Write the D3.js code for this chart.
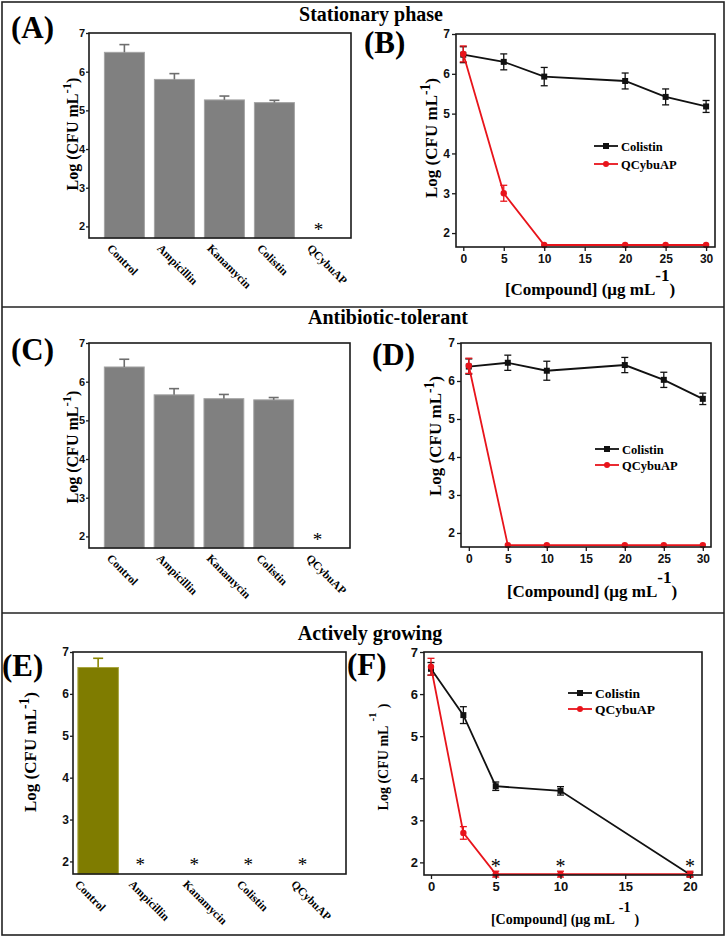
<!DOCTYPE html>
<html>
<head>
<meta charset="utf-8">
<script src="https://cdn.jsdelivr.net/npm/d3@7"></script>
<style>
  body { margin: 0; background: #fff; }
  svg { display: block; font-family: "Liberation Serif", "Times New Roman", serif; font-weight: bold; }
</style>
</head>
<body>
<div id="chart"></div>
<script>
// ---- data ----
const drugs = ["Control", "Ampicillin", "Kanamycin", "Colistin", "QCybuAP"];

// (A) stationary phase, bars
const statBars = [6.5, 5.8, 5.27, 5.2, null];
const statBarErr = [0.2, 0.15, 0.1, 0.06, 0];
// (C) antibiotic-tolerant, bars
const tolBars = [6.38, 5.66, 5.56, 5.53, null];
const tolBarErr = [0.2, 0.16, 0.11, 0.06, 0];
// (E) actively growing, bars
const growBars = [6.63, null, null, null, null];
const growBarErr = [0.22, 0, 0, 0, 0];

// (B) stationary, dose response
const doseStat = [0, 5, 10, 20, 25, 30];
const statColistin = [6.48, 6.3, 5.93, 5.82, 5.42, 5.18];
const statColistinErr = [0.2, 0.2, 0.23, 0.2, 0.2, 0.15];
const statQCy = [6.5, 3.0, 1.7, 1.7, 1.7, 1.7];
const statQCyErr = [0.2, 0.2, 0, 0, 0, 0];

// (D) antibiotic-tolerant, dose response
const doseTol = [0, 5, 10, 20, 25, 30];
const tolColistin = [6.38, 6.48, 6.27, 6.42, 6.03, 5.53];
const tolColistinErr = [0.2, 0.2, 0.25, 0.2, 0.2, 0.15];
const tolQCy = [6.4, 1.68, 1.68, 1.68, 1.68, 1.68];
const tolQCyErr = [0.2, 0, 0, 0, 0, 0];

// (F) actively growing, dose response
const doseGrow = [0, 2.5, 5, 10, 20];
const growColistin = [6.6, 5.5, 3.81, 3.7, 1.71];
const growColistinErr = [0.15, 0.2, 0.1, 0.1, 0.05];
const growQCy = [6.65, 2.7, 1.72, 1.72, 1.72];
const growQCyErr = [0.2, 0.15, 0.07, 0.07, 0.07];
const growStars = [5, 10, 20];

const yTicks = [2, 3, 4, 5, 6, 7];
const xTicks30 = [0, 5, 10, 15, 20, 25, 30];
const xTicks20 = [0, 5, 10, 15, 20];
const sectionTitles = ["Stationary phase", "Antibiotic-tolerant", "Actively growing"];

const RED = "#e8141b", BLACK = "#111";

const svg = d3.select("#chart").append("svg")
    .attr("width", 726)
    .attr("height", 937);

svg.append("rect").attr("width", 726).attr("height", 937).attr("fill", "#fff");

// outer frame + section dividers
svg.append("rect")
    .attr("x", 2).attr("y", 2).attr("width", 722).attr("height", 933)
    .attr("fill", "none").attr("stroke", "#222").attr("stroke-width", 1.6);
[307, 613].forEach(y => {
    svg.append("line").attr("x1", 2).attr("x2", 724).attr("y1", y).attr("y2", y)
        .attr("stroke", "#222").attr("stroke-width", 1.6);
});

// section titles
[[371, 21], [388, 324], [370, 640]].forEach((p, i) => {
    svg.append("text").attr("x", p[0]).attr("y", p[1])
        .attr("text-anchor", "middle").attr("font-size", 20)
        .text(sectionTitles[i]);
});

function panelLabel(txt, x, y) {
    svg.append("text").attr("x", x).attr("y", y).attr("font-size", 31).text(txt);
}

function yLabel(g, x, y, size, supShift) {
    let t = g.append("text")
        .attr("transform", `translate(${x},${y}) rotate(-90)`)
        .attr("text-anchor", "middle")
        .attr("font-size", size);
    t.append("tspan").text("Log (CFU mL");
    t.append("tspan").attr("dy", -supShift).attr("font-size", size * 0.8).text("-1");
    t.append("tspan").attr("dy", supShift).text(")");
}

function frame(g, x0, x1, y0, y1) {
    g.append("rect").attr("x", x0).attr("y", y0)
        .attr("width", x1 - x0).attr("height", y1 - y0)
        .attr("fill", "none").attr("stroke", "#1a1a1a").attr("stroke-width", 1.6);
}

function leftAxis(g, y, x0, size, tick, pad) {
    let ax = g.append("g")
        .attr("transform", `translate(${x0},0)`)
        .call(d3.axisLeft(y).tickValues(yTicks).tickSize(tick).tickPadding(pad).tickFormat(d3.format("d")));
    ax.select(".domain").remove();
    ax.selectAll("line").attr("stroke", "#1a1a1a").attr("stroke-width", 1.3);
    ax.selectAll("text").attr("font-size", size).attr("font-family", null).attr("fill", "#111");
}

// ---- bar panel ----
function barPanel(cfg) {
    let g = svg.append("g");
    let x = d3.scaleBand().domain(drugs).range([cfg.x0, cfg.x1])
        .paddingInner(cfg.pi).paddingOuter(cfg.po).align(cfg.align);
    let y = d3.scaleLinear().domain([cfg.ymin, 7]).range([cfg.y1, cfg.y0]);

    let rows = drugs.map((d, i) => ({name: d, v: cfg.values[i], e: cfg.err[i]}));

    g.selectAll(".bar").data(rows.filter(r => r.v !== null)).enter().append("rect")
        .attr("class", "bar")
        .attr("x", d => x(d.name))
        .attr("width", x.bandwidth())
        .attr("y", d => y(d.v))
        .attr("height", d => y(cfg.ymin) - y(d.v))
        .attr("fill", cfg.fill)
        .attr("stroke", cfg.edge).attr("stroke-width", 1);

    // upper error whiskers
    let eb = g.selectAll(".err").data(rows.filter(r => r.v !== null)).enter().append("g");
    eb.append("line")
        .attr("x1", d => x(d.name) + x.bandwidth() / 2).attr("x2", d => x(d.name) + x.bandwidth() / 2)
        .attr("y1", d => y(d.v)).attr("y2", d => y(d.v + d.e))
        .attr("stroke", cfg.errColor).attr("stroke-width", 1.6);
    eb.append("line")
        .attr("x1", d => x(d.name) + x.bandwidth() / 2 - 5).attr("x2", d => x(d.name) + x.bandwidth() / 2 + 5)
        .attr("y1", d => y(d.v + d.e)).attr("y2", d => y(d.v + d.e))
        .attr("stroke", cfg.errColor).attr("stroke-width", 1.6);

    // stars for no-survivor groups
    g.selectAll(".star").data(rows.filter(r => r.v === null)).enter().append("text")
        .attr("x", d => x(d.name) + x.bandwidth() / 2 + cfg.starDx)
        .attr("y", y(2) + 10)
        .attr("text-anchor", "middle")
        .attr("font-size", 19).attr("font-weight", "normal")
        .text("*");

    frame(g, cfg.x0, cfg.x1, cfg.y0, cfg.y1);
    leftAxis(g, y, cfg.x0, cfg.tickFont, 3, 1);

    g.selectAll(".xl").data(drugs).enter().append("text")
        .attr("transform", d => `translate(${x(d) + x.bandwidth() / 2 + cfg.labDx},${cfg.y1 + 11}) rotate(45)`)
        .attr("font-size", 11.5)
        .text(d => d);

    yLabel(g, cfg.labX, cfg.labY, cfg.ylabSize, 7);
}

// ---- dose response panel ----
function linePanel(cfg) {
    let g = svg.append("g");
    let x = d3.scaleLinear().domain(cfg.xdom).range([cfg.x0, cfg.x1]);
    let y = d3.scaleLinear().domain([cfg.ymin, 7]).range([cfg.y1, cfg.y0]);

    let series = [
        {name: "Colistin", color: BLACK, vals: cfg.col, err: cfg.colErr, shape: "square"},
        {name: "QCybuAP", color: RED, vals: cfg.q, err: cfg.qErr, shape: "circle"}
    ];

    let line = d3.line().x(d => x(d.x)).y(d => y(d.v));

    series.forEach(s => {
        let pts = cfg.xs.map((xv, i) => ({x: xv, v: s.vals[i], e: s.err[i]}));
        g.append("path").datum(pts)
            .attr("d", line).attr("fill", "none")
            .attr("stroke", s.color).attr("stroke-width", 1.8);

        let eg = g.selectAll(null).data(pts.filter(p => p.e > 0)).enter().append("g")
            .attr("stroke", s.color).attr("stroke-width", 1.3);
        eg.append("line").attr("x1", d => x(d.x)).attr("x2", d => x(d.x))
            .attr("y1", d => y(d.v - d.e)).attr("y2", d => y(d.v + d.e));
        eg.append("line").attr("x1", d => x(d.x) - 3.5).attr("x2", d => x(d.x) + 3.5)
            .attr("y1", d => y(d.v - d.e)).attr("y2", d => y(d.v - d.e));
        eg.append("line").attr("x1", d => x(d.x) - 3.5).attr("x2", d => x(d.x) + 3.5)
            .attr("y1", d => y(d.v + d.e)).attr("y2", d => y(d.v + d.e));

        if (s.shape === "square") {
            g.selectAll(null).data(pts).enter().append("rect")
                .attr("x", d => x(d.x) - 3).attr("y", d => y(d.v) - 3)
                .attr("width", 6).attr("height", 6).attr("fill", s.color);
        } else {
            g.selectAll(null).data(pts).enter().append("circle")
                .attr("cx", d => x(d.x)).attr("cy", d => y(d.v))
                .attr("r", 3.2).attr("fill", s.color);
        }
    });

    if (cfg.stars) {
        g.selectAll(".star").data(cfg.stars).enter().append("text")
            .attr("x", d => x(d)).attr("y", y(2) + 11)
            .attr("text-anchor", "middle")
            .attr("font-size", 20).attr("font-weight", "normal")
            .text("*");
    }

    frame(g, cfg.x0, cfg.x1, cfg.y0, cfg.y1);
    leftAxis(g, y, cfg.x0, cfg.tickSize, 4, 2);

    let bx = g.append("g")
        .attr("transform", `translate(0,${cfg.y1})`)
        .call(d3.axisBottom(x).tickValues(cfg.ticks).tickSize(4).tickPadding(3).tickFormat(d3.format("d")));
    bx.select(".domain").remove();
    bx.selectAll("line").attr("stroke", "#1a1a1a").attr("stroke-width", 1.3);
    bx.selectAll("text").attr("font-size", cfg.tickSize).attr("font-family", null).attr("fill", "#111");

    // legend
    series.forEach((s, i) => {
        let ly = cfg.legY + i * cfg.legGap;
        g.append("line").attr("x1", cfg.legX).attr("x2", cfg.legX + 24)
            .attr("y1", ly).attr("y2", ly)
            .attr("stroke", s.color).attr("stroke-width", 1.8);
        if (s.shape === "square") {
            g.append("rect").attr("x", cfg.legX + 9).attr("y", ly - 3)
                .attr("width", 6).attr("height", 6).attr("fill", s.color);
        } else {
            g.append("circle").attr("cx", cfg.legX + 12).attr("cy", ly).attr("r", 3).attr("fill", s.color);
        }
        g.append("text").attr("x", cfg.legX + 27).attr("y", ly + 4.5)
            .attr("font-size", cfg.legSize).text(s.name);
    });

    // x label
    let t = g.append("text").attr("x", cfg.xlabX).attr("y", cfg.xlabY)
        .attr("text-anchor", "middle").attr("font-size", cfg.xlabSize);
    t.append("tspan").text("[Compound] (\u03bcg mL");
    t.append("tspan").attr("dy", -cfg.xlabSup).attr("dx", cfg.xlabGap).text("-1");
    t.append("tspan").attr("dy", cfg.xlabSup).attr("dx", cfg.xlabGap).text(")");

    // y label
    let yl = g.append("text")
        .attr("transform", `translate(${cfg.labX},${cfg.labY}) rotate(-90)`)
        .attr("text-anchor", "middle").attr("font-size", cfg.ylabSize);
    yl.append("tspan").text("Log (CFU mL");
    yl.append("tspan").attr("dy", -cfg.ylabSup).attr("dx", cfg.ylabGap).attr("font-size", cfg.ylabSize * 0.8).text("-1");
    yl.append("tspan").attr("dy", cfg.ylabSup).attr("dx", cfg.ylabGap).text(")");
}

// ---- panels ----
barPanel({x0: 89, x1: 351, y0: 33, y1: 238, ymin: 1.7, pi: 0.2, po: 0.22, align: 0.7,
    values: statBars, err: statBarErr, fill: "#808080", edge: "#a3a3a3", errColor: "#6e6e6e",
    starDx: -6, labDx: -18, labX: 78, labY: 134, ylabSize: 16, tickFont: 11});
barPanel({x0: 89, x1: 350, y0: 343, y1: 548, ymin: 1.7, pi: 0.2, po: 0.22, align: 0.7,
    values: tolBars, err: tolBarErr, fill: "#808080", edge: "#a3a3a3", errColor: "#6e6e6e",
    starDx: -6, labDx: -18, labX: 78, labY: 447, ylabSize: 16, tickFont: 11});
barPanel({x0: 73, x1: 346, y0: 652, y1: 874, ymin: 1.7, pi: 0.25, po: 0.15, align: 0.3,
    values: growBars, err: growBarErr, fill: "#7f7c00", edge: "#a9a640", errColor: "#8a8600",
    starDx: -12, labDx: -24, labX: 36, labY: 752, ylabSize: 17, tickFont: 12});

linePanel({x0: 456, x1: 715, y0: 34, y1: 247, ymin: 1.65, xdom: [-0.9, 31.1], ticks: xTicks30,
    xs: doseStat, col: statColistin, colErr: statColistinErr, q: statQCy, qErr: statQCyErr,
    tickSize: 12, legX: 594, legY: 146, legGap: 18, legSize: 12.5,
    xlabX: 590, xlabY: 295, xlabSize: 17, xlabSup: 14, xlabGap: 0,
    labX: 437, labY: 138, ylabSize: 17, ylabSup: 7, ylabGap: 0});
linePanel({x0: 461, x1: 711, y0: 343, y1: 547, ymin: 1.63, xdom: [-1.0, 31.05], ticks: xTicks30,
    xs: doseTol, col: tolColistin, colErr: tolColistinErr, q: tolQCy, qErr: tolQCyErr,
    tickSize: 12, legX: 595, legY: 449, legGap: 16, legSize: 12.5,
    xlabX: 592, xlabY: 597, xlabSize: 17, xlabSup: 14, xlabGap: 0,
    labX: 441, labY: 436, ylabSize: 17, ylabSup: 7, ylabGap: 0});
linePanel({x0: 424, x1: 702, y0: 652, y1: 875, ymin: 1.7, xdom: [-0.54, 20.93], ticks: xTicks20,
    xs: doseGrow, col: growColistin, colErr: growColistinErr, q: growQCy, qErr: growQCyErr,
    stars: growStars,
    tickSize: 13, legX: 568, legY: 693, legGap: 16, legSize: 13.5,
    xlabX: 565, xlabY: 924, xlabSize: 14, xlabSup: 12, xlabGap: 4,
    labX: 388, labY: 757, ylabSize: 14, ylabSup: 12, ylabGap: 4});

panelLabel("(A)", 11, 38);
panelLabel("(B)", 364, 53);
panelLabel("(C)", 11, 360);
panelLabel("(D)", 372, 365);
panelLabel("(E)", 2, 676);
panelLabel("(F)", 347, 675);
</script>
</body>
</html>
